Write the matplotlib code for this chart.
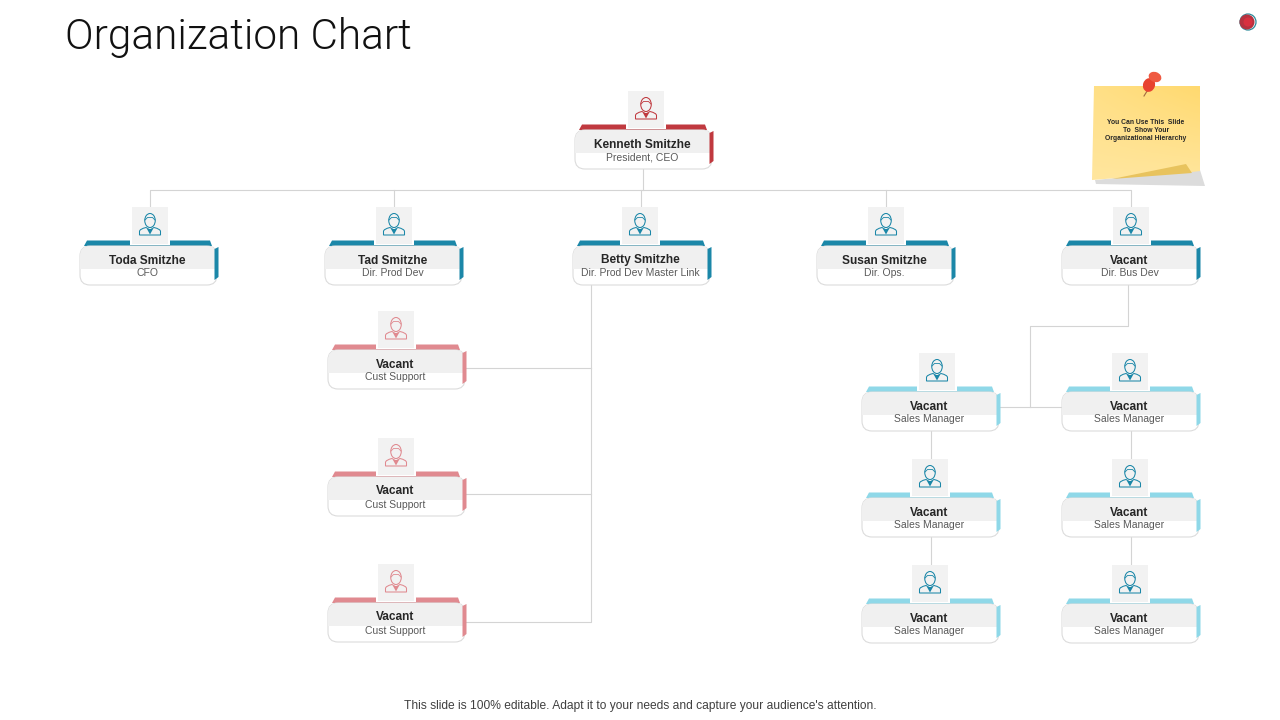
import numpy as np
import matplotlib
matplotlib.use("Agg")
import matplotlib.pyplot as plt
from matplotlib.colors import LinearSegmentedColormap
from matplotlib.patches import Circle, Ellipse, FancyBboxPatch, PathPatch, Polygon, Rectangle
from matplotlib.path import Path

# =========================
# 1 - Chart text
# =========================
TITLE = "Organization Chart"
FOOTER = "This slide is 100% editable. Adapt it to your needs and capture your audience's attention."
NOTE = ["You Can Use This  Slide", "To  Show Your", "Organizational Hierarchy"]

names = ["Kenneth Smitzhe", "Toda Smitzhe", "Tad Smitzhe", "Betty Smitzhe", "Susan Smitzhe",
         "Vacant", "Vacant", "Vacant", "Vacant",
         "Vacant", "Vacant", "Vacant", "Vacant", "Vacant", "Vacant"]
roles = ["President, CEO", "CFO", "Dir. Prod Dev", "Dir. Prod Dev Master Link", "Dir. Ops.",
         "Dir. Bus Dev", "Cust Support", "Cust Support", "Cust Support",
         "Sales Manager", "Sales Manager", "Sales Manager",
         "Sales Manager", "Sales Manager", "Sales Manager"]

# =========================
# 2 - Layout (pixels)
# =========================
card_left = [575, 80, 325, 573, 817, 1062, 328, 328, 328, 862, 862, 862, 1062, 1062, 1062]
card_top = [130, 246, 246, 246, 246, 246, 350, 477, 603, 392, 498, 604, 392, 498, 604]
icon_x = [646, 150, 394, 640, 886, 1131, 396, 396, 396, 937, 930, 930, 1130, 1130, 1130]
card_col = ["#c0393f"] + ["#1b87a8"] * 5 + ["#e08a90"] * 3 + ["#8fd8e8"] * 6
icon_col = ["#c0393f"] + ["#1b87a8"] * 5 + ["#e08a90"] * 3 + ["#1b87a8"] * 6

connectors = [
    [(150, 207), (150, 190), (1131, 190), (1131, 207)],
    [(394, 190), (394, 207)], [(641, 190), (641, 207)], [(886, 190), (886, 207)],
    [(643, 169), (643, 190)],
    [(591, 285), (591, 622), (465, 622)], [(465, 368), (591, 368)], [(465, 494), (591, 494)],
    [(1128, 285), (1128, 326), (1030, 326), (1030, 407)], [(1000, 407), (1062, 407)],
    [(931, 431), (931, 458)], [(931, 537), (931, 564)],
    [(1131, 431), (1131, 458)], [(1131, 537), (1131, 564)],
]

CARD_W, CARD_H = 137, 39
LINE_COL = "#d4d4d4"


def draw_icon(ax, cx, bottom, col):
    # grey tile with a small outlined person on it
    top = bottom - 37
    ax.add_patch(Rectangle((cx - 20, top), 40, 38, fc="white", ec="none", zorder=3.5))
    ax.add_patch(Rectangle((cx - 18, top), 36, 37, fc="#f2f2f2", ec="none", zorder=4))
    cy = top + 18
    shoulders = Path(
        [(cx - 10.5, cy + 10), (cx - 10.5, cy + 6.5), (cx - 10.5, cy + 4), (cx - 4, cy + 2.5),
         (cx, cy + 5), (cx + 4, cy + 2.5), (cx + 10.5, cy + 4), (cx + 10.5, cy + 6.5),
         (cx + 10.5, cy + 10), (cx - 10.5, cy + 10)],
        [Path.MOVETO, Path.LINETO, Path.CURVE3, Path.CURVE3, Path.LINETO, Path.LINETO,
         Path.CURVE3, Path.CURVE3, Path.LINETO, Path.CLOSEPOLY])
    ax.add_patch(PathPatch(shoulders, fc="none", ec=col, lw=0.75, zorder=5))
    ax.add_patch(Ellipse((cx, cy - 4.5), 10.5, 14, fc="#f2f2f2", ec=col, lw=0.75, zorder=5))
    ax.plot([cx - 5, cx - 2.5, cx + 2.5, cx + 5], [cy - 5, cy - 7.5, cy - 7.5, cy - 5], color=col, lw=0.6, zorder=6)
    ax.add_patch(Polygon([(cx - 3, cy + 4), (cx + 3, cy + 4), (cx, cy + 9.5)], fc=col, ec="none", zorder=6))


def draw_card(ax, left, top, name, role, col, ic_x, ic_col):
    right = left + CARD_W
    # coloured strip on top and on the right hand side
    ax.add_patch(Polygon([(left + 4, top), (left + 7, top - 5.5), (right - 7, top - 5.5), (right - 5, top)],
                         fc=col, ec="none", zorder=1))
    card = FancyBboxPatch((left + 10, top + 10), CARD_W - 20, CARD_H - 20, boxstyle="round,pad=10,rounding_size=10",
                          fc="white", ec="#dcdcdc", lw=0.8, zorder=2)
    ax.add_patch(card)
    band = Rectangle((left, top), CARD_W, 23, fc="#f0f0f0", ec="none", zorder=2.5)
    ax.add_patch(band)
    band.set_clip_path(card)
    ax.add_patch(Polygon([(right - 2.5, top + 3), (right + 1.5, top + 1), (right + 1.5, top + 31), (right - 2.5, top + 34)],
                         fc=col, ec="none", zorder=2.8))
    ax.text(left + CARD_W / 2 - 1, top + 14.5, name, ha="center", va="center", fontsize=8.6,
            fontweight="bold", color="#262626", family="Liberation Sans", zorder=3)
    ax.text(left + CARD_W / 2 - 1, top + 27.5, role, ha="center", va="center", fontsize=7.5,
            color="#595959", family="Liberation Sans", zorder=3)
    draw_icon(ax, ic_x, top - 2, ic_col)


def draw_note(ax):
    ax.add_patch(Polygon([(1095, 180), (1200, 170), (1205, 186), (1096, 184)], fc="#dcdcdc", ec="none", zorder=1))
    sheet = Polygon([(1094, 86), (1200, 86), (1200, 171), (1192, 172), (1092, 180)], fc="none", ec="none", zorder=2)
    ax.add_patch(sheet)
    cmap = LinearSegmentedColormap.from_list("note", ["#ffe69e", "#ffd96e"])
    grad = np.linspace(0, 1, 64).reshape(-1, 1) * np.linspace(0.5, 1, 64)
    img = ax.imshow(grad[::-1], extent=(1090, 1202, 182, 84), cmap=cmap, aspect="auto", zorder=2)
    img.set_clip_path(sheet)
    ax.add_patch(Polygon([(1112, 179), (1186, 164), (1192, 173)], fc="#e8c35e", ec="none", zorder=3))
    for i, line in enumerate(NOTE):
        ax.text(1146, 122 + i * 8, line, ha="center", va="center", fontsize=4.9, fontweight="bold",
                color="#262626", family="Liberation Sans", zorder=4)
    # push pin
    ax.plot([1144, 1149], [96, 88], color="#a06a40", lw=0.8, zorder=4)
    ax.add_patch(Ellipse((1149, 85), 12, 14, angle=20, fc="#e8432f", ec="none", zorder=5))
    ax.add_patch(Ellipse((1155, 77), 13, 10, angle=20, fc="#ef5a42", ec="none", zorder=5))


# =========================
# 3 - Draw
# =========================
fig = plt.figure(figsize=(12.8, 7.2), dpi=100)
ax = fig.add_axes([0, 0, 1, 1])

for pts in connectors:
    xs, ys = zip(*pts)
    ax.plot(xs, ys, color=LINE_COL, lw=0.8, zorder=0.5)

for i in range(len(names)):
    draw_card(ax, card_left[i], card_top[i], names[i], roles[i], card_col[i], icon_x[i], icon_col[i])

draw_note(ax)

ax.text(65, 37, TITLE, ha="left", va="center", fontsize=30.4, fontweight=300, color="#111111", family="Roboto")
ax.text(640, 706.5, FOOTER, ha="center", va="center", fontsize=8.65, color="#404040", family="Liberation Sans")

# small round marker top right
ax.add_patch(Circle((1248, 22), 8, fc="white", ec="#2a8a9a", lw=0.9))
ax.add_patch(Circle((1247, 22), 7.5, fc="#b5323f", ec="none"))
ax.add_patch(Circle((1248, 22), 4.5, fc="#d8303f", ec="none"))

ax.set_xlim(0, 1280)
ax.set_ylim(720, 0)
ax.axis("off")

fig.savefig("out.png", dpi=100)
